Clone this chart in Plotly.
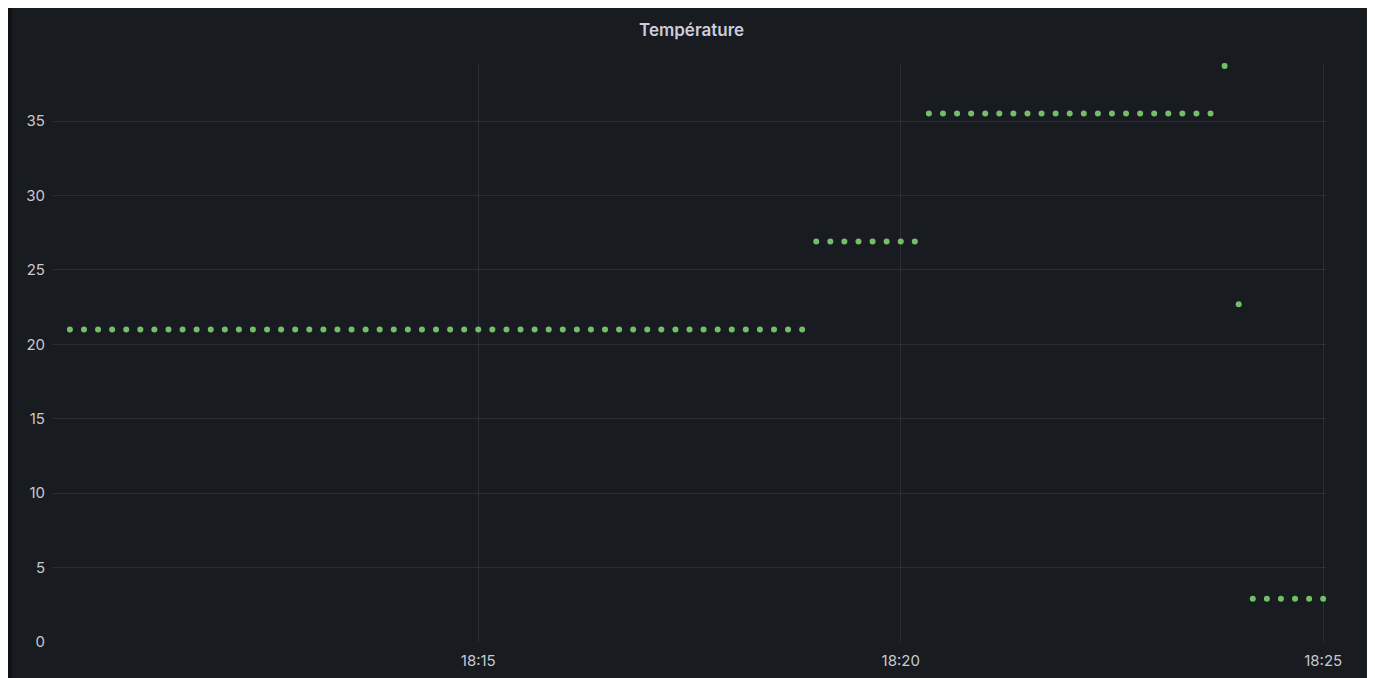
import plotly.graph_objects as go

DATE = "2024-01-01"

# Sample times (HH:MM:SS) and temperature readings
times = [
    "18:10:10", "18:10:20", "18:10:30", "18:10:40", "18:10:50",
    "18:11:00", "18:11:10", "18:11:20", "18:11:30", "18:11:40", "18:11:50",
    "18:12:00", "18:12:10", "18:12:20", "18:12:30", "18:12:40", "18:12:50",
    "18:13:00", "18:13:10", "18:13:20", "18:13:30", "18:13:40", "18:13:50",
    "18:14:00", "18:14:10", "18:14:20", "18:14:30", "18:14:40", "18:14:50",
    "18:15:00", "18:15:10", "18:15:20", "18:15:30", "18:15:40", "18:15:50",
    "18:16:00", "18:16:10", "18:16:20", "18:16:30", "18:16:40", "18:16:50",
    "18:17:00", "18:17:10", "18:17:20", "18:17:30", "18:17:40", "18:17:50",
    "18:18:00", "18:18:10", "18:18:20", "18:18:30", "18:18:40", "18:18:50",
    "18:19:00", "18:19:10", "18:19:20", "18:19:30", "18:19:40", "18:19:50",
    "18:20:00", "18:20:10",
    "18:20:20", "18:20:30", "18:20:40", "18:20:50",
    "18:21:00", "18:21:10", "18:21:20", "18:21:30", "18:21:40", "18:21:50",
    "18:22:00", "18:22:10", "18:22:20", "18:22:30", "18:22:40", "18:22:50",
    "18:23:00", "18:23:10", "18:23:20", "18:23:30", "18:23:40",
    "18:23:50",
    "18:24:00",
    "18:24:10", "18:24:20", "18:24:30", "18:24:40", "18:24:50", "18:25:00",
]

temperature = [
    21.0, 21.0, 21.0, 21.0, 21.0,
    21.0, 21.0, 21.0, 21.0, 21.0, 21.0,
    21.0, 21.0, 21.0, 21.0, 21.0, 21.0,
    21.0, 21.0, 21.0, 21.0, 21.0, 21.0,
    21.0, 21.0, 21.0, 21.0, 21.0, 21.0,
    21.0, 21.0, 21.0, 21.0, 21.0, 21.0,
    21.0, 21.0, 21.0, 21.0, 21.0, 21.0,
    21.0, 21.0, 21.0, 21.0, 21.0, 21.0,
    21.0, 21.0, 21.0, 21.0, 21.0, 21.0,
    26.9, 26.9, 26.9, 26.9, 26.9, 26.9,
    26.9, 26.9,
    35.5, 35.5, 35.5, 35.5,
    35.5, 35.5, 35.5, 35.5, 35.5, 35.5,
    35.5, 35.5, 35.5, 35.5, 35.5, 35.5,
    35.5, 35.5, 35.5, 35.5, 35.5,
    38.7,
    22.7,
    2.9, 2.9, 2.9, 2.9, 2.9, 2.9,
]

x_range = ["18:09:58", "18:25:02"]
x_ticks = ["18:15:00", "18:20:00", "18:25:00"]
x_ticktext = ["18:15", "18:20", "18:25"]
y_range = [0, 38.9]
y_ticks = [0, 5, 10, 15, 20, 25, 30, 35]
title = "Température"

# figure sits inside the page's 8px body margin
W, H = 1362, 670
L, R, T, B = 45, 1318, 55, 634  # plot area in figure pixels
PANEL = "#181b1f"
GRID = "rgba(204,204,220,0.10)"
TXT = "#c7c9d1"


def px(xp):
    return (xp - L) / (R - L)


def py(yp):
    return (B - yp) / (B - T)


fig = go.Figure()
fig.add_trace(go.Scatter(
    x=[f"{DATE} {t}" for t in times],
    y=temperature,
    mode="markers",
    marker=dict(color="#73BF69", size=6, line=dict(width=0)),
    hoverinfo="skip",
    showlegend=False,
))

shapes = [
    dict(type="rect", xref="paper", yref="paper", x0=px(0), x1=px(4), y0=py(0), y1=py(H),
         fillcolor="#111217", line=dict(width=0), layer="below"),
]

fig.update_layout(
    width=W, height=H,
    margin=dict(l=L, r=W - R, t=T, b=H - B, pad=0, autoexpand=False),
    paper_bgcolor=PANEL,
    plot_bgcolor=PANEL,
    font=dict(family="Inter, Roboto, sans-serif", size=15, color=TXT),
    shapes=shapes,
    annotations=[dict(
        text=title, xref="paper", yref="paper", x=px(683), y=py(22),
        xanchor="center", yanchor="middle", showarrow=False,
        font=dict(family="Inter, Roboto, sans-serif", size=17, color="#ccccdc", weight=600),
    )],
    xaxis=dict(
        type="date",
        range=[f"{DATE} {x_range[0]}", f"{DATE} {x_range[1]}"],
        tickvals=[f"{DATE} {t}" for t in x_ticks],
        ticktext=x_ticktext,
        showgrid=True, gridcolor=GRID, gridwidth=1,
        zeroline=False, showline=False,
        ticks="", ticklabelstandoff=8,
        tickfont=dict(size=15, color=TXT),
        automargin=False,
        fixedrange=True,
    ),
    yaxis=dict(
        range=y_range,
        tickvals=y_ticks,
        showgrid=True, gridcolor=GRID, gridwidth=1,
        zeroline=False, showline=False,
        ticks="", ticklabelstandoff=7,
        tickfont=dict(size=15, color=TXT),
        automargin=False,
        fixedrange=True,
    ),
)

fig.write_html("out.html")
